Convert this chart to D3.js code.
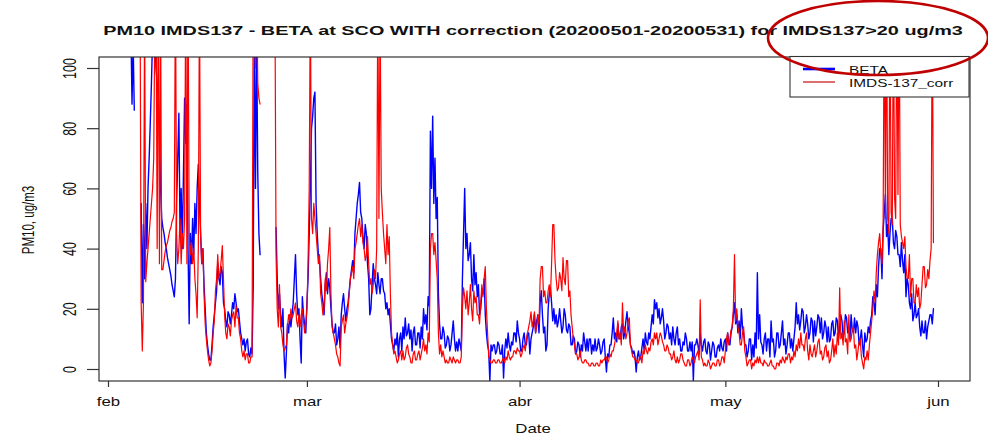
<!DOCTYPE html>
<html><head><meta charset="utf-8">
<script src="https://cdn.jsdelivr.net/npm/d3@7"></script>
<style>body{margin:0;background:#fff}svg{display:block}text{font-family:"Liberation Sans",Arial,sans-serif;fill:#111}</style>
</head><body>
<svg id="c" width="988" height="436"></svg>
<script>
const title = "PM10 IMDS137 - BETA at SCO WITH correction (20200501-20200531) for IMDS137>20 ug/m3";
const seriesNames = ["BETA", "IMDS-137_corr"];
const seriesColors = ["#0000ff", "#ff0000"];
const monthTicks = ["2020-02-01", "2020-03-01", "2020-04-01", "2020-05-01", "2020-06-01"];
const monthLabels = ["feb", "mar", "abr", "may", "jun"];
const yTicks = [0, 20, 40, 60, 80, 100];
const yLabel = "PM10, ug/m3";
const xLabel = "Date";
const startTime = "2020-02-04T00:00:00Z";
const stepHours = 4;
// BETA, 6 readings per day from Feb 4 (one row group per day)
const beta = [
null,null,115,88,108,86, null,null,null,null,null,55, 22,48,30,55,40,60, 70,82,95,110,105,110, 100,95,90,80,60,50,
47,45,42,40,37,35, 33,31,28,26,24,30, 55,70,85,45,60,40, 65,90,75,88,40,15, 45,35,50,38,55,45,
60,68,55,45,35,40, 28,20,12,8,5,3, 3,8,14,18,22,26, 35,30,28,34,32,22, 20,16,14,19,18,15,
18,22,20,25,22,19, 20,16,12,10,8,10, 6,9,10,5,4,7, 5,27,110,60,110,65, 45,38,null,null,null,null,
null,null,null,null,null,null, null,null,null,47,30,20, 25,18,14,20,5,-3, 5,15,12,18,14,18, 22,30,38,25,18,20,
10,2,24,18,15,12, 22,30,45,60,80,84, 90,92,55,45,38,36, 30,25,22,18,28,32, 25,30,27,20,15,12,
12,15,8,10,14,7, 18,22,25,20,16,20, 22,26,30,33,36,32, 45,50,55,58,62,52, 50,44,40,48,45,35,
30,18,20,28,35,30, 28,25,32,28,25,30, 30,26,25,20,22,18, 20,15,10,8,6,10, 8,12,4,10,12,6,
14,10,17,11,12,15, 10,13,6,12,14,8, 8,12,12,7,14,10, 20,15,18,13,24,21, 79,60,84,55,70,50,
57,25,15,10,10,14, 12,7,8,11,10,6, 8,12,16,10,6,9, 6,10,8,6,30,45, 60,40,45,36,38,42,
30,26,38,28,32,24, 28,18,20,25,25,30, 18,12,8,6,-4,8, 6,8,8,5,6,9, 8,5,5,8,-3,6,
10,7,12,8,6,9, 8,12,12,9,16,12, 10,6,6,10,12,8, 8,12,12,5,10,12, 14,18,12,16,18,12,
22,26,18,12,14,6, 8,20,25,27,22,16, 20,15,18,14,16,20, 16,12,14,20,18,13, 12,15,14,8,8,11,
10,5,6,9,8,4, 8,6,12,9,6,10, 6,10,10,5,8,6, 10,6,7,10,8,5, 6,9,10,4,-1,5,
4,8,8,12,17,10, 12,9,15,10,10,14, 15,10,12,16,19,14, 12,8,7,5,6,4, -1,4,6,3,4,7,
10,6,12,9,8,12, 10,14,18,15,23,20, 22,17,20,15,17,20, 16,10,12,15,14,10, 12,8,14,10,8,12,
14,8,10,6,6,9, 8,12,10,6,6,9, 6,9,-4,8,8,10, 8,5,12,8,6,9, 10,6,5,9,8,3,
6,9,8,4,4,7, 8,6,10,7,6,9, 10,6,12,9,8,12, 14,18,22,15,18,12, 16,10,20,14,12,8,
8,4,6,10,10,3, 8,4,12,7,32,10, 18,9,8,5,10,12, 6,10,10,4,16,9, 10,4,6,12,12,7,
8,12,16,8,10,5, 8,12,12,7,10,6, 10,14,22,15,18,13, 16,20,19,12,14,18, 15,10,12,17,16,9,
16,11,14,18,17,12, 17,10,12,16,14,9, 14,9,10,15,16,11, 12,17,16,10,14,18, 16,11,12,18,17,12,
14,10,18,13,12,17, 12,16,14,8,10,13, 8,4,12,9,10,14, 12,16,18,24,22,18, 28,24,34,40,40,30,
46,52,58,44,48,38, 45,50,50,42,40,46, 44,38,38,34,42,36, 32,38,24,30,28,22, 20,25,16,18,22,17,
18,20,14,11,16,12, 12,16,10,14,16,18, 18,15,20,null,null,null
];
// IMDS-137 corrected, same timestamps
const imds = [
null,null,null,null,null,null, null,null,null,null,130,22, 6,22,120,29,35,40, 45,50,55,60,70,120, 130,40,130,35,120,33,
33,36,39,41,42,44, 46,47,49,50,52,130, 45,35,40,50,35,45, 40,50,130,35,130,45, 38,42,35,40,30,25,
17,40,125,45,35,40, 25,15,10,6,3,1, 2,6,12,16,26,30, 38,30,32,36,41,30, 18,12,10,15,14,11,
16,18,19,14,21,17, 17,12,10,6,4,6, 3,5,5,2,2,4, 4,125,120,100,130,95, 90,88,null,null,null,null,
null,null,null,null,null,null, null,null,125,38,20,14, 28,14,12,8,6,7, 8,14,18,16,20,17, 18,20,22,16,14,18,
14,18,20,16,12,15, 20,35,60,125,50,45, 55,50,45,40,35,38, 25,22,18,20,30,26, 35,40,47,25,14,12,
10,8,5,4,2,1, 14,16,18,12,15,17, 20,25,30,32,34,30, 40,42,45,48,50,44, 48,42,40,36,38,44,
35,28,30,25,28,33, 30,40,125,50,120,60, 52,45,40,35,48,38, 44,25,12,8,5,6, 4,2,3,5,6,3,
6,3,4,7,8,5, 4,2,2,5,6,3, 3,5,6,3,5,7, 10,6,8,5,12,9, 40,45,45,38,42,36,
30,12,5,8,4,6, 4,2,3,2,2,4, 3,2,4,3,2,3, 3,2,2,4,20,27, 24,20,26,18,22,28,
20,16,26,22,24,18, 18,15,22,28,24,30, 34,20,12,4,3,2, 2,3,3,2,2,3, 3,2,2,3,4,2,
4,3,6,4,3,4, 4,6,6,5,7,6, 6,4,5,7,8,6, 10,12,14,16,19,14, 16,19,12,14,18,15,
30,34,34,24,26,22, 22,26,28,24,35,48, 48,36,30,26,27,32, 30,26,37,30,28,36, 36,24,26,18,14,10,
8,5,5,3,4,6, 3,2,2,3,3,2, 2,1,1,2,2,1, 1,2,2,1,1,3, 2,3,3,4,4,2,
3,5,4,6,6,8, 10,12,16,10,12,8, 22,12,14,10,12,16, 17,8,6,4,4,3, 3,2,2,4,4,2,
6,5,8,6,5,7, 6,9,10,8,12,10, 12,8,10,12,11,9, 8,6,6,8,7,5, 5,3,4,6,3,2,
4,2,3,5,5,3, 2,1,1,3,3,1, 2,4,3,2,4,5, 6,3,23,4,3,1, 2,1,1,3,2,0,
1,2,2,1,1,3, 3,1,2,4,4,2, 6,10,12,8,10,13, 14,20,38,16,20,14, 12,8,8,12,14,6,
4,1,2,3,3,0, 2,1,3,2,4,2, 4,2,2,1,3,2, 2,1,1,2,3,1, 1,0,0,2,2,1,
3,2,4,3,2,4, 3,5,5,2,4,3, 6,4,8,6,10,7, 12,8,8,6,10,12, 6,3,8,5,4,6,
8,4,6,9,10,5, 6,3,4,7,8,4, 6,2,3,6,10,4, 8,5,12,8,27,10, 12,8,16,9,10,5,
18,9,10,13,14,7, 8,3,6,9,10,4, 2,0,4,3,6,3, 8,12,16,20,26,22, 32,38,42,45,38,35,
48,125,50,125,50,45, 125,52,48,125,57,50, 125,58,125,48,44,42, 40,44,34,30,30,38, 24,30,30,22,22,28,
24,27,20,22,28,34, 34,27,28,33,30,36, 40,125,42,null,null,null
];

const svg = d3.select("#c");
const box = {l: 99, r: 970, t: 57, b: 381};
const SX = 1.4; // horizontal stretch of the original picture's lettering

const x = d3.scaleUtc()
  .domain([new Date("2020-02-01T00:00:00Z"), new Date("2020-06-01T00:00:00Z")])
  .range([108, 938]);
const y = d3.scaleLinear().domain([0, 100]).range([369, 68]);
const t0 = new Date(startTime).getTime();
const timeAt = i => new Date(t0 + i * stepHours * 3600e3);

svg.append("rect").attr("width", 988).attr("height", 436).attr("fill", "#fff");

svg.append("clipPath").attr("id", "clip").append("rect")
  .attr("x", box.l).attr("y", box.t).attr("width", box.r - box.l).attr("height", box.b - box.t);

const line = d3.line().defined(v => v != null).x((v, i) => x(timeAt(i))).y(v => y(v));
const g = svg.append("g").attr("clip-path", "url(#clip)");
[beta, imds].forEach((s, k) => {
  g.append("path").datum(s).attr("d", line).attr("fill", "none")
    .attr("stroke", seriesColors[k]).attr("stroke-width", k === 0 ? 1.4 : 1.2)
    .attr("stroke-linejoin", "round").attr("stroke-linecap", "round");
});

// box
svg.append("rect").attr("x", box.l).attr("y", box.t).attr("width", box.r - box.l).attr("height", box.b - box.t)
  .attr("fill", "none").attr("stroke", "#333").attr("stroke-width", 1.2);

function stretched(sel, px, py, sx, rot) {
  sel.attr("x", 0).attr("y", 0)
    .attr("transform", `translate(${px},${py}) scale(${sx},1)` + (rot ? ` rotate(${rot})` : ""));
}

// y axis
const ya = svg.append("g").attr("transform", `translate(${box.l},0)`)
  .call(d3.axisLeft(y).tickValues(yTicks).tickSize(12).tickFormat(d3.format("d")));
ya.select(".domain").remove();
ya.selectAll(".tick line").attr("stroke", "#333").attr("stroke-width", 1.2);
ya.selectAll(".tick text").each(function() {
  const t = d3.select(this);
  t.attr("dy", null).attr("text-anchor", "middle").attr("font-size", 12.5).attr("fill", "#111");
  stretched(t, -23, 0, SX, -90);
});

// x axis
const xa = svg.append("g").attr("transform", `translate(0,${box.b})`)
  .call(d3.axisBottom(x).tickValues(monthTicks.map(d => new Date(d + "T00:00:00Z"))).tickSize(6)
    .tickFormat((d, i) => monthLabels[i]));
xa.select(".domain").remove();
xa.selectAll(".tick line").attr("stroke", "#333").attr("stroke-width", 1.2);
xa.selectAll(".tick text").each(function() {
  const t = d3.select(this);
  t.attr("dy", null).attr("text-anchor", "middle").attr("font-size", 12).attr("fill", "#111");
  stretched(t, 0, 25, SX, 0);
});

// axis titles
stretched(svg.append("text").text(xLabel).attr("text-anchor", "middle").attr("font-size", 12), 533, 433, SX, 0);
stretched(svg.append("text").text(yLabel).attr("text-anchor", "middle").attr("font-size", 11.5), 33.5, 220, SX, -90);

// title fitted to 860px width
const tt = svg.append("text").text(title).attr("text-anchor", "middle").attr("font-size", 13.5).attr("font-weight", "bold");
const tw = tt.node().getComputedTextLength();
stretched(tt, 533, 35, 860 / tw, 0);

// legend
const lg = svg.append("g");
lg.append("rect").attr("x", 790).attr("y", 56.5).attr("width", 179).attr("height", 40.5)
  .attr("fill", "#fff").attr("stroke", "#333").attr("stroke-width", 1.1);
const legY = [69, 82], legBase = [74.3, 87.2];
seriesNames.forEach((n, k) => {
  lg.append("line").attr("x1", 803).attr("x2", 835).attr("y1", legY[k]).attr("y2", legY[k])
    .attr("stroke", k === 0 ? "#0000ff" : "#d03030").attr("stroke-width", k === 0 ? 2.6 : 1.4);
  stretched(lg.append("text").text(n).attr("font-size", 11), 849, legBase[k], SX, 0);
});

// hand-drawn annotation ellipse
svg.append("ellipse").attr("cx", 878).attr("cy", 38).attr("rx", 110).attr("ry", 37)
  .attr("fill", "none").attr("stroke", "#c00000").attr("stroke-width", 2.6);
</script>
</body></html>
